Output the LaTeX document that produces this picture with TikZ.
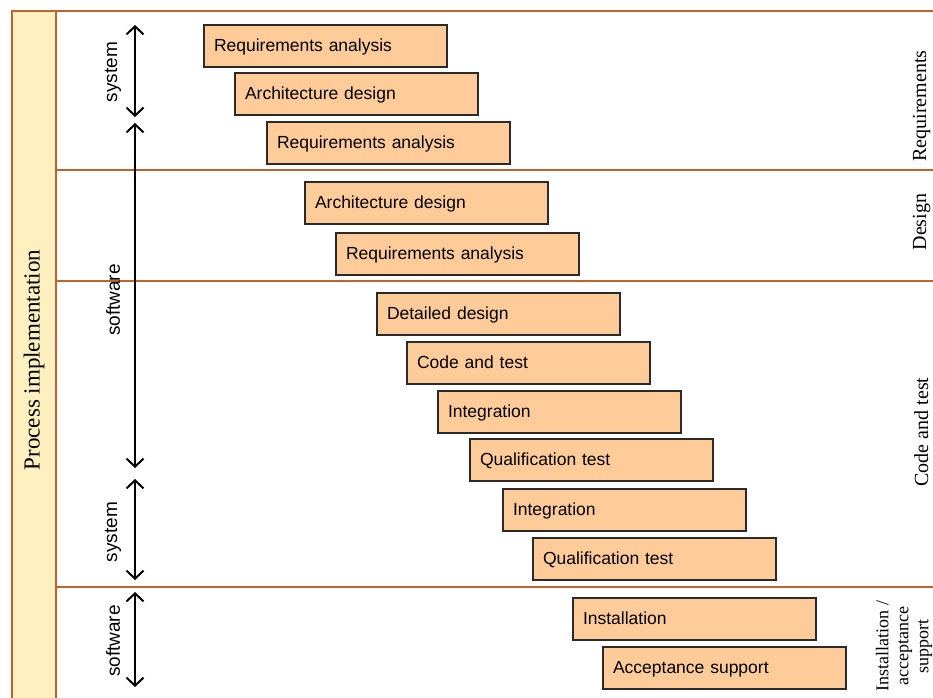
\documentclass[tikz,border=0pt]{standalone}
\usepackage{fontspec}
\setmainfont{Liberation Serif}
\newfontfamily\arialf{Liberation Sans}
\usetikzlibrary{arrows.meta}
\definecolor{frame}{HTML}{C0632F}
\definecolor{colfill}{HTML}{FFF0C0}
\definecolor{boxfill}{HTML}{FFCC99}
\definecolor{boxline}{HTML}{2A2A2A}
\begin{document}
\begin{tikzpicture}[x=1pt,y=-1pt,
  phase/.style={draw=boxline, line width=2pt, fill=boxfill, anchor=north west,
    minimum height=42pt, text width=223pt, inner xsep=10pt, inner ysep=0pt,
    text height=13pt, text depth=2pt,
    align=left, font=\arialf\fontsize{17.5}{20}\selectfont},
  sep/.style={draw=frame, line width=2pt},
  span/.style={{Straight Barb[length=8pt,width=17pt,line width=2pt]}-{Straight Barb[length=8pt,width=17pt,line width=2pt]}, line width=1.6pt},
  sidelbl/.style={rotate=90, font=\arialf\fontsize{19}{22}\selectfont},
  phaselbl/.style={rotate=90, anchor=base, font=\fontsize{20}{22}\selectfont}]
\useasboundingbox (0,0) rectangle (933,697);
% left column and frame
\fill[colfill] (12,11) rectangle (56,700);
\draw[sep] (12,700) -- (12,11) -- (933,11);
\draw[sep] (56,11) -- (56,700);
\draw[sep] (56,170) -- (933,170);
\draw[sep] (56,281) -- (933,281);
\draw[sep] (56,587) -- (933,587);
\node[rotate=90, font=\fontsize{23}{26}\selectfont] (proc) at (34,360) {Process implementation};
% phase labels
\node[phaselbl] (lreq) at (926,106) {Requirements};
\node[phaselbl] (ldes) at (926,222) {Design};
\node[phaselbl] (lcod) at (928,432) {Code and test};
\node[rotate=90, align=center, font=\fontsize{18}{20}\selectfont] (linst) at (904,646) {Installation /\\acceptance\\support};
% span arrows
\coordinate (a1t) at (135,25);  \coordinate (a1b) at (135,117);
\coordinate (a2t) at (135,123); \coordinate (a2b) at (135,468);
\coordinate (a3t) at (135,479); \coordinate (a3b) at (135,580);
\coordinate (a4t) at (135,592); \coordinate (a4b) at (135,687);
\draw[span] (a1t) -- (a1b);
\draw[span] (a2t) -- (a2b);
\draw[span] (a3t) -- (a3b);
\draw[span] (a4t) -- (a4b);
\node[sidelbl] (s1) at (113,72) {system};
\node[sidelbl] (s2) at (113,300) {software};
\node[sidelbl] (s3) at (113,532) {system};
\node[sidelbl] (s4) at (113,641) {software};
% activity boxes
\node[phase] (b1)  at (203,24)  {Requirements analysis};
\node[phase] (b2)  at (234,72)  {Architecture design};
\node[phase] (b3)  at (266,121) {Requirements analysis};
\node[phase] (b4)  at (304,181) {Architecture design};
\node[phase] (b5)  at (335,232) {Requirements analysis};
\node[phase] (b6)  at (376,292) {Detailed design};
\node[phase] (b7)  at (406,341) {Code and test};
\node[phase] (b8)  at (437,390) {Integration};
\node[phase] (b9)  at (469,438) {Qualification test};
\node[phase] (b10) at (502,488) {Integration};
\node[phase] (b11) at (532,537) {Qualification test};
\node[phase] (b12) at (572,597) {Installation};
\node[phase] (b13) at (602,646) {Acceptance support};
\end{tikzpicture}
\end{document}
